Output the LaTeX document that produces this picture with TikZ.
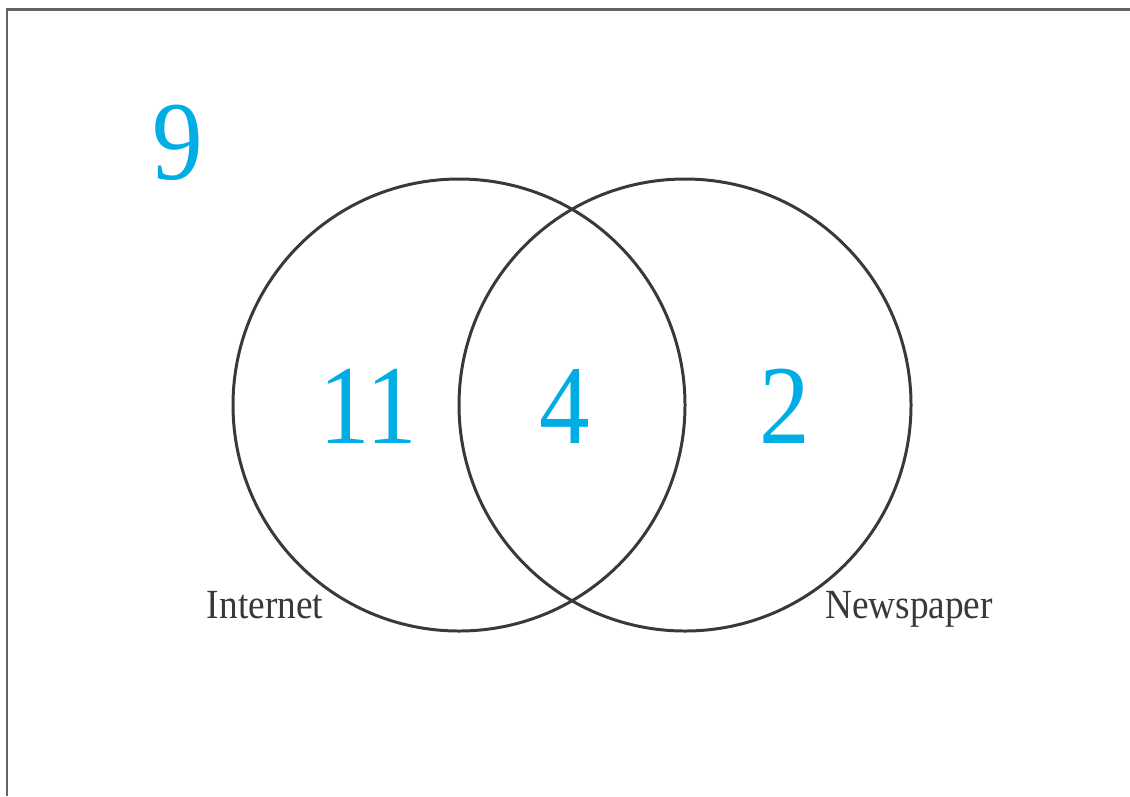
\documentclass[tikz,border=0pt]{standalone}
\usepackage{fontspec}
\setmainfont[FakeStretch=0.9]{Liberation Serif}
\usetikzlibrary{positioning}
\definecolor{numblue}{RGB}{0,173,228}
\definecolor{setgray}{RGB}{58,57,53}
\definecolor{framegray}{RGB}{100,100,95}
\tikzset{
    setcircle/.style = {circle, draw=setgray, line width=0.85pt, minimum size=4.52cm, inner sep=0pt},
    bignum/.style = {anchor=base, inner sep=0pt, text=numblue, font=\fontsize{32}{32}\selectfont},
    setlabel/.style = {anchor=base, inner sep=0pt, text=setgray, font=\fontsize{11.8}{12}\selectfont},
}

\begin{document}
\begin{tikzpicture}
\useasboundingbox (0,0) rectangle (11.30,-7.96);
\draw[framegray, line width=0.6pt] (0.07,-7.96) -- (0.07,-0.095) -- (11.30,-0.095);
\node[setcircle] at (4.59, -4.05) (internetset) {};
\node[setcircle] at (6.85, -4.05) (newsset) {};
%
\node[bignum] at (1.78, -1.79) (n9) {9};
\node[bignum] at (3.68, -4.43) (n11) {11};
\node[bignum] at (5.65, -4.43) (n4) {4};
\node[bignum] at (7.85, -4.43) (n2) {2};
%
\node[setlabel] at (2.65, -6.18) (internet) {Internet};
\node[setlabel] at (9.09, -6.18) (newspaper) {Newspaper};

\end{tikzpicture}
\end{document}
